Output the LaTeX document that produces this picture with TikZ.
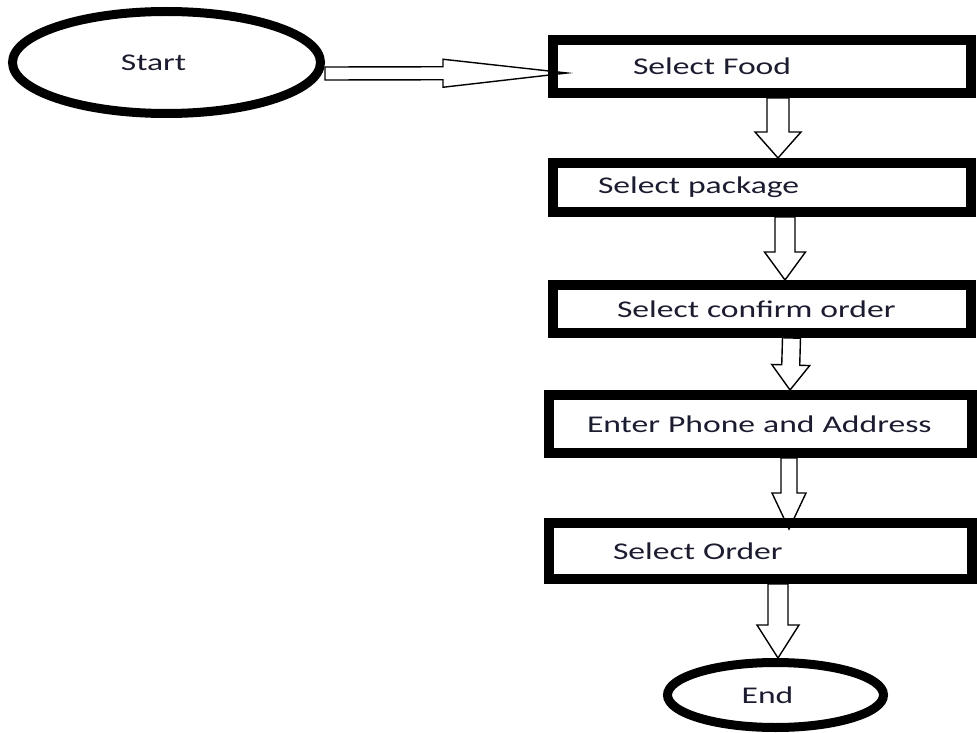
\documentclass[tikz,border=0pt]{standalone}
\usepackage{fontspec}
\setmainfont{Carlito}[FakeStretch=1.4]
\usetikzlibrary{positioning,calc,shapes.geometric}
\definecolor{TextInk}{HTML}{1C1C30}

\begin{document}
\begin{tikzpicture}[
  x=1pt,y=-1pt,
  every node/.style={font=\fontsize{24}{28}\selectfont,text=TextInk},
  terminal/.style={draw,ellipse,line width=9pt,inner sep=0pt},
  stepbox/.style={draw,line width=10pt,inner xsep=0pt,inner ysep=0pt,
    text width=418pt,align=left},
  hollow/.style n args={3}{draw,line width=1.4pt,to path={
    let \p1=($(\tikztotarget)!#3!(\tikztostart)$) in
    ($(\tikztostart)!#1!90:(\tikztotarget)$) -- ($(\p1)!#1!90:(\tikztotarget)$)
    -- ($(\p1)!#2!90:(\tikztotarget)$) -- (\tikztotarget)
    -- ($(\p1)!#2!-90:(\tikztotarget)$) -- ($(\p1)!#1!-90:(\tikztotarget)$)
    -- ($(\tikztostart)!#1!-90:(\tikztotarget)$) -- cycle}}
]
\useasboundingbox (0,0) rectangle (977,733);

\node[terminal,minimum width=308pt,minimum height=102pt] (start) at (166.5,62.5)
  {\hspace*{-26pt}Start};
\node[stepbox,minimum height=53pt] (food) at (762,66.5) {\hspace*{80pt}Select Food};
\node[stepbox,minimum height=49pt,below=60pt of food] (pkg) {\hspace*{45pt}Select package};
\node[stepbox,minimum height=48pt,below=63pt of pkg] (confirm)
  {\hspace*{64pt}Select confirm order};
\node[stepbox,text width=423pt,minimum height=58pt,below=52pt of confirm,xshift=-1.5pt] (addr)
  {\hspace*{38pt}Enter Phone and Address};
\node[stepbox,text width=423pt,minimum height=56pt,below=60pt of addr] (order)
  {\hspace*{64pt}Select Order};
\node[terminal,minimum width=216pt,minimum height=65pt,below=74pt of order,xshift=15pt] (finish)
  {\hspace*{-16pt}End};

% block arrows
\draw[hollow={6.5pt}{14pt}{124pt}] ([yshift=-11pt]start.east) to ([xshift=19pt,yshift=-6.5pt]food.west);
\draw[hollow={11pt}{23pt}{26pt}] ([xshift=16pt]food.south) to ([xshift=16pt]pkg.north);
\draw[hollow={10pt}{20.5pt}{28pt}] ([xshift=23pt]pkg.south) to ([xshift=23pt]confirm.north);
\draw[hollow={9pt}{19pt}{25pt}] ([xshift=29.5pt]confirm.south) to ([xshift=29.5pt]addr.north);
\draw[hollow={8pt}{17pt}{36pt}] ([xshift=28.5pt]addr.south) to ([xshift=28.5pt,yshift=-11pt]order.north);
\draw[hollow={10pt}{21pt}{33pt}] ([xshift=17.5pt]order.south) to ([xshift=2.5pt]finish.north);
\end{tikzpicture}
\end{document}
